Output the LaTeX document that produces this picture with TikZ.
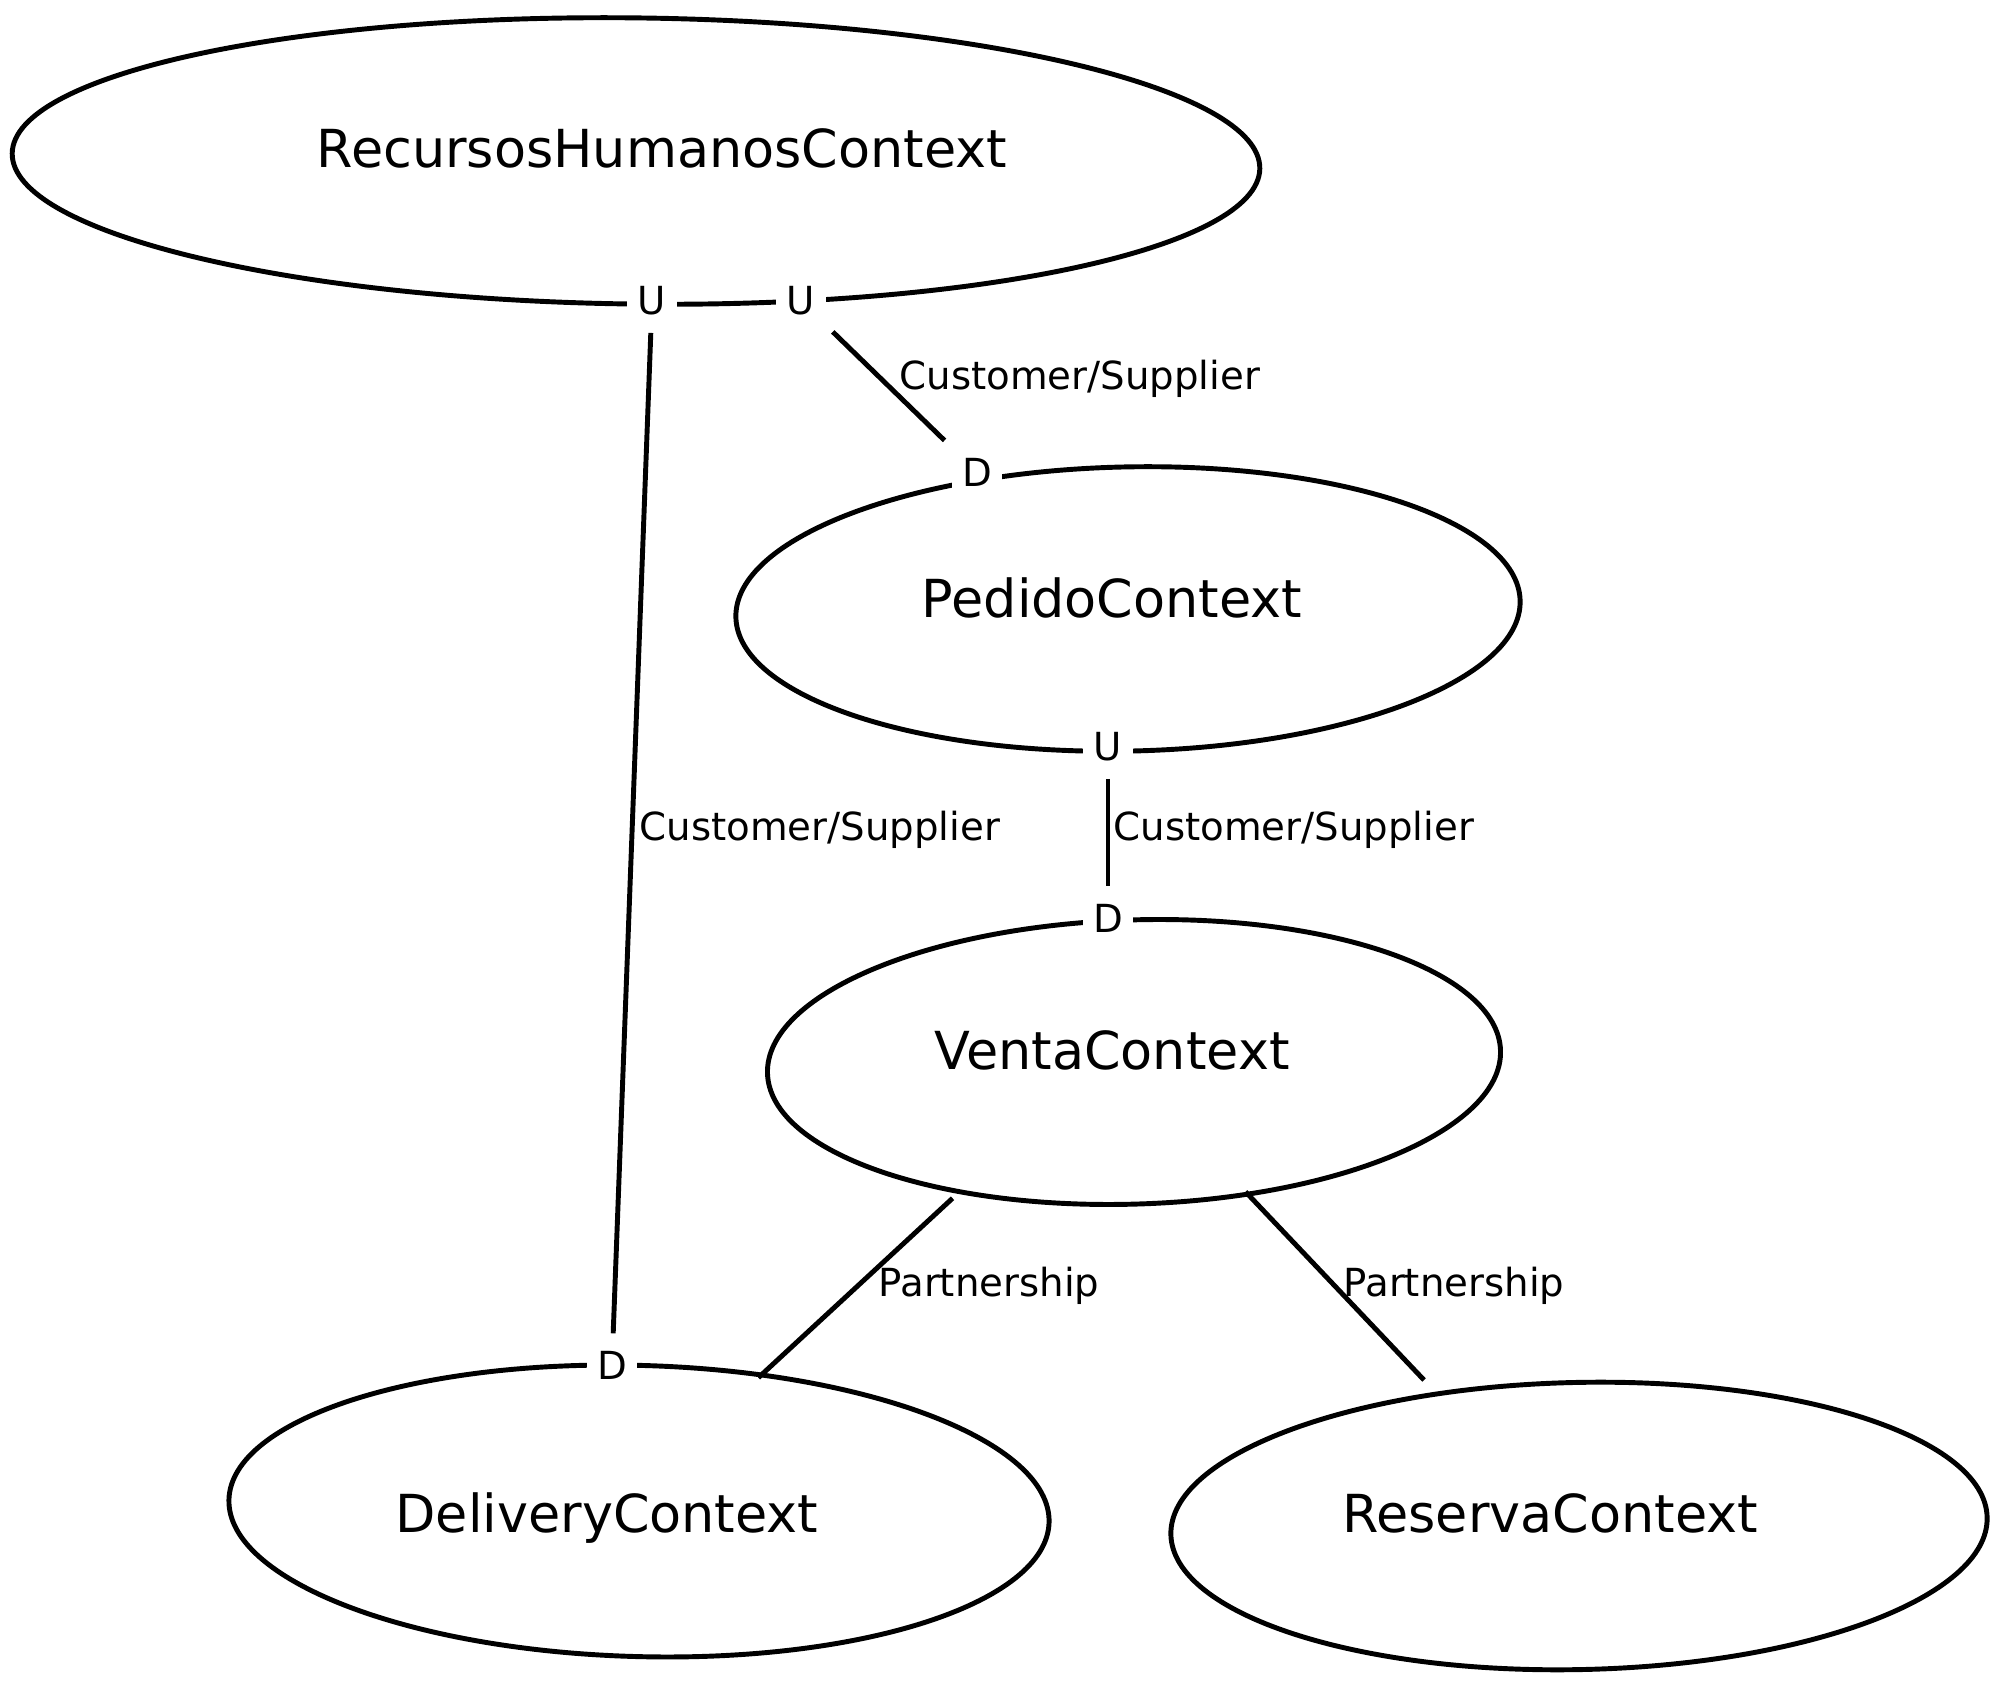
\documentclass[tikz,border=0pt]{standalone}
\usepackage{fontspec}
\setmainfont{DejaVu Sans}
\usetikzlibrary{shapes.geometric}
\tikzset{
  ctx/.style={draw, ellipse, line width=1.4pt, inner sep=0pt},
  ctxname/.style={anchor=base, font=\fontsize{14.9}{17}\selectfont},
  rolle/.style={fill=white, inner sep=3pt, outer sep=2pt, font=\fontsize{11}{13}\selectfont},
  beziehung/.style={anchor=base west, inner sep=0pt, font=\fontsize{11}{13}\selectfont},
  verbindung/.style={line width=1.4pt}
}

\begin{document}
\begin{tikzpicture}[x=0.01cm,y=-0.01cm]
\useasboundingbox (0,0) rectangle (2000,1686);

\node[ctx, minimum width=12.47cm, minimum height=2.86cm, rotate=-0.7] (rh) at (636,161) {};		% Recursos Humanos
\node[ctx, minimum width=7.84cm, minimum height=2.84cm, rotate=1.2] (pedido) at (1128,609) {};		% Pedido
\node[ctx, minimum width=7.33cm, minimum height=2.84cm, rotate=1.8] (venta) at (1134,1062) {};		% Venta
\node[ctx, minimum width=8.20cm, minimum height=2.91cm, rotate=-1.6] (delivery) at (639,1511) {};	% Delivery
\node[ctx, minimum width=8.16cm, minimum height=2.87cm, rotate=1.2] (reserva) at (1579,1526) {};	% Reserva

\node[ctxname] (rhname) at (662,168) {RecursosHumanosContext};
\node[ctxname] (pedidoname) at (1112,618) {PedidoContext};
\node[ctxname] (ventaname) at (1112,1070) {VentaContext};
\node[ctxname] (deliveryname) at (607,1532) {DeliveryContext};
\node[ctxname] (reservaname) at (1550,1532) {ReservaContext};

\node[rolle] (rhu1) at (652,301) {U};			% upstream zu Delivery
\node[rolle] (rhu2) at (801,301) {U};			% upstream zu Pedido
\node[rolle] (pedidod) at (977,472) {D};
\node[rolle] (pedidou) at (1108,747) {U};
\node[rolle] (ventad) at (1108,918) {D};
\node[rolle] (deliveryd) at (612,1365) {D};

\draw[verbindung] (rhu2) -- (pedidod);			% RH -> Pedido
\draw[verbindung] (rhu1) -- (deliveryd);		% RH -> Delivery
\draw[verbindung] (pedidou) -- (ventad);		% Pedido -> Venta
\draw[verbindung, shorten <=2.17cm, shorten >=2.06cm] (ventaname.center) -- (deliveryname.center);	% Partnership
\draw[verbindung, shorten <=1.94cm, shorten >=1.83cm] (ventaname.center) -- (reservaname.center);	% Partnership

\node[beziehung] (cs1) at (899,390) {Customer/Supplier};
\node[beziehung] (cs2) at (639,841) {Customer/Supplier};
\node[beziehung] (cs3) at (1113,841) {Customer/Supplier};
\node[beziehung] (p1) at (878,1296) {Partnership};
\node[beziehung] (p2) at (1343,1296) {Partnership};

\end{tikzpicture}
\end{document}
